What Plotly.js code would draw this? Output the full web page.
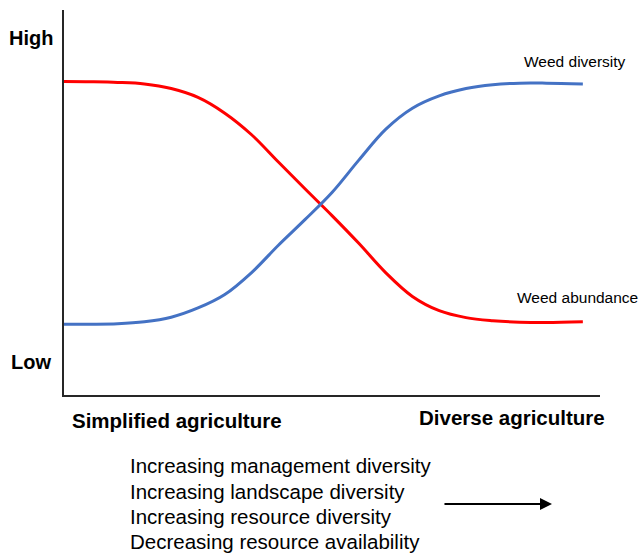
<!DOCTYPE html>
<html>
<head>
<meta charset="utf-8">
<script src="https://cdn.plot.ly/plotly-3.0.1.min.js"></script>
<style>html,body{margin:0;padding:0;background:#fff;}#chart{width:644px;height:553px;}</style>
</head>
<body>
<div id="chart"></div>
<script>
// Position along the agriculture gradient (0 = simplified, 100 = diverse)
const gradientX = [0, 5, 10, 15, 20, 25, 30, 35, 40, 45, 50, 55, 60, 65, 70, 75, 80, 85, 90, 96.8];
const abundanceY = [81.4, 81.35, 81.2, 80.8, 79.6, 77.3, 73.2, 67.6, 60.5, 53.5, 46.6, 39.4, 31.8, 25.6, 21.9, 20.1, 19.3, 18.9, 18.8, 19.0];
const diversityY = [18.4, 18.4, 18.5, 19.0, 20.2, 22.6, 26.1, 31.8, 38.9, 45.6, 52.6, 61.0, 69.0, 74.5, 77.7, 79.6, 80.6, 81.0, 81.0, 80.8];
const seriesNames = ["Weed abundance", "Weed diversity"];
const levelLabels = ["High", "Low"];
const endLabels = ["Simplified agriculture", "Diverse agriculture"];
const gradientLines = ["Increasing management diversity", "Increasing landscape diversity", "Increasing resource diversity", "Decreasing resource availability"];

const FONT = "Liberation Sans, Arial, sans-serif";

const traces = [
  {x: gradientX, y: abundanceY, mode: "lines", name: seriesNames[0],
   line: {color: "#ff0000", width: 3, shape: "spline", smoothing: 1}, hoverinfo: "skip"},
  {x: gradientX, y: diversityY, mode: "lines", name: seriesNames[1],
   line: {color: "#4472c4", width: 3, shape: "spline", smoothing: 1}, hoverinfo: "skip"}
];

function txt(text, x, y, size, bold, xanchor) {
  return {text: bold ? "<b>" + text + "</b>" : text, xref: "paper", yref: "paper", x: x, y: y,
    xanchor: xanchor || "left", yanchor: "middle", showarrow: false,
    font: {family: FONT, size: size, color: "#000"}};
}

const gradY = [-0.184, -0.250, -0.316, -0.381];
const annotations = [
  txt(levelLabels[0], -0.106, 0.927, 20, true),
  txt(levelLabels[1], -0.102, 0.086, 20, true),
  txt(endLabels[0], 0.012, -0.066, 20.5, true),
  txt(endLabels[1], 0.658, -0.058, 20.5, true),
  txt(seriesNames[1], 0.855, 0.865, 15.5, false),
  txt(seriesNames[0], 0.841, 0.252, 15.5, false)
];
gradientLines.forEach((t, i) => annotations.push(txt(t, 0.12, gradY[i], 20.5, false)));
annotations.push({xref: "paper", yref: "paper", x: 0.9104, y: -0.2831, ax: -109, ay: 0,
  text: "", showarrow: true, arrowhead: 2, arrowsize: 1.2, arrowwidth: 2, arrowcolor: "#000", standoff: 0});

const layout = {
  width: 644, height: 553,
  margin: {l: 64, r: 44, t: 10, b: 158},
  paper_bgcolor: "#fff", plot_bgcolor: "#fff",
  showlegend: false,
  xaxis: {range: [0, 100], showline: true, linecolor: "#262626", linewidth: 2,
          showgrid: false, zeroline: false, showticklabels: false, ticks: ""},
  yaxis: {range: [0, 100], showline: true, linecolor: "#262626", linewidth: 2,
          showgrid: false, zeroline: false, showticklabels: false, ticks: ""},
  annotations: annotations
};

Plotly.newPlot("chart", traces, layout, {displayModeBar: false, staticPlot: true});
</script>
</body>
</html>
